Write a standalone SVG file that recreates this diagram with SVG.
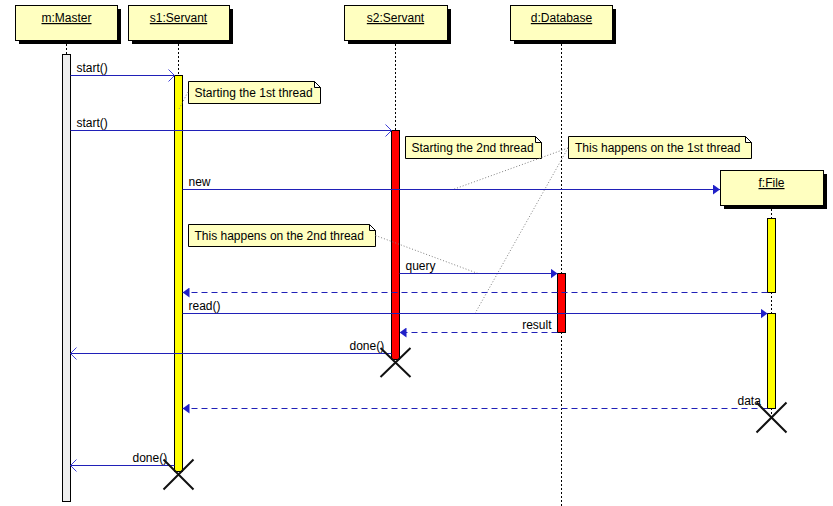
<svg xmlns="http://www.w3.org/2000/svg" width="833" height="506" viewBox="0 0 833 506">
<style>
  text { font-family: "Liberation Sans", Arial, sans-serif; font-size: 12px; fill: #000; }
  .head { fill: #ffffc0; stroke: #000; stroke-width: 1; }
  .shadow { fill: #000; }
  .htxt { text-anchor: middle; text-decoration: underline; }
  .life { stroke: #000; stroke-width: 1; stroke-dasharray: 2,2; fill: none; }
  .act { stroke: #000; stroke-width: 1; }
  .note { fill: #ffffc0; stroke: #000; stroke-width: 1; }
  .fold { fill: #fff; stroke: #000; stroke-width: 1; }
  .ncon { stroke: #808080; stroke-width: 1; stroke-dasharray: 1,2; fill: none; }
  .msg { stroke: #2020b8; stroke-width: 1; fill: none; }
  .ret { stroke: #2020b8; stroke-width: 1; fill: none; stroke-dasharray: 6,4; }
  .x { stroke: #111; stroke-width: 2; }
</style>
<defs>
  <marker id="filled" viewBox="0 0 7 10" refX="7" refY="5" markerWidth="7" markerHeight="10" markerUnits="userSpaceOnUse" orient="auto">
    <path d="M0,0 L7,5 L0,10 z" fill="#2020c8"/>
  </marker>
  <marker id="open" viewBox="0 0 8 14" refX="7" refY="7" markerWidth="8" markerHeight="14" markerUnits="userSpaceOnUse" orient="auto">
    <path d="M1,1 L7,7 L1,13" fill="none" stroke="#4040d8" stroke-width="1"/>
  </marker>
</defs>
<rect width="833" height="506" fill="#fff"/>

<!-- lifelines -->
<g id="lifelines">
  <line class="life" x1="66.5" y1="40" x2="66.5" y2="54"/>
  <line class="life" x1="178.5" y1="40" x2="178.5" y2="75"/>
  <line class="life" x1="395.5" y1="40" x2="395.5" y2="130"/>
  <line class="life" x1="561.5" y1="40" x2="561.5" y2="506"/>
  <line class="life" x1="771.5" y1="209" x2="771.5" y2="218"/>
  <line class="life" x1="771.5" y1="292" x2="771.5" y2="313"/>
  <line class="life" x1="771.5" y1="408" x2="771.5" y2="416"/>
</g>

<g id="m-master">
  <rect class="shadow" x="19" y="9" width="102" height="35"/>
  <rect class="head" x="15.5" y="5.5" width="102" height="35"/>
  <text class="htxt" x="66.5" y="22">m:Master</text>
  <rect class="act" fill="#eeeeee" x="62.5" y="54.5" width="8" height="447"/>
</g>
<g id="s1-servant">
  <rect class="shadow" x="132" y="9" width="101" height="35"/>
  <rect class="head" x="128.5" y="5.5" width="101" height="35"/>
  <text class="htxt" x="178.5" y="22">s1:Servant</text>
  <rect class="act" fill="#ffff00" x="174.5" y="75.5" width="8" height="396"/>
</g>
<g id="s2-servant">
  <rect class="shadow" x="348" y="9" width="103" height="35"/>
  <rect class="head" x="344.5" y="5.5" width="103" height="35"/>
  <text class="htxt" x="395.5" y="22">s2:Servant</text>
  <rect class="act" fill="#ff0000" x="391.5" y="130.5" width="8" height="229"/>
</g>
<g id="d-database">
  <rect class="shadow" x="514" y="9" width="102" height="35"/>
  <rect class="head" x="510.5" y="5.5" width="102" height="35"/>
  <text class="htxt" x="561.5" y="22">d:Database</text>
  <rect class="act" fill="#ff0000" x="557.5" y="273.5" width="8" height="59"/>
</g>
<g id="f-file">
  <rect class="shadow" x="724" y="174" width="103" height="35"/>
  <rect class="head" x="720.5" y="170.5" width="103" height="35"/>
  <text class="htxt" x="771.5" y="187">f:File</text>
  <rect class="act" fill="#ffff00" x="767.5" y="218.5" width="8" height="74"/>
  <rect class="act" fill="#ffff00" x="767.5" y="313.5" width="8" height="95"/>
</g>

<!-- notes -->
<g id="note1">
  <path class="note" d="M188.5,81.5 H314.5 L320.5,87.5 V103.5 H188.5 Z"/>
  <path class="fold" d="M314.5,81.5 V87.5 H320.5 Z"/>
  <text x="194.5" y="96.5">Starting the 1st thread</text>
</g>
<g id="note2">
  <path class="note" d="M405.5,136.5 H535.5 L541.5,142.5 V158.5 H405.5 Z"/>
  <path class="fold" d="M535.5,136.5 V142.5 H541.5 Z"/>
  <text x="411.5" y="151.5">Starting the 2nd thread</text>
</g>
<g id="note3">
  <path class="note" d="M568.5,136.5 H745.5 L751.5,142.5 V158.5 H568.5 Z"/>
  <path class="fold" d="M745.5,136.5 V142.5 H751.5 Z"/>
  <text x="575" y="151.5">This happens on the 1st thread</text>
</g>
<g id="note4">
  <path class="note" d="M188.5,224.5 H369.5 L375.5,230.5 V246.5 H188.5 Z"/>
  <path class="fold" d="M369.5,224.5 V230.5 H375.5 Z"/>
  <text x="194.5" y="239.5">This happens on the 2nd thread</text>
</g>

<g id="connectors">
  <!-- note connectors -->
  <line class="ncon" x1="188" y1="92" x2="178.5" y2="110"/>
  <line class="ncon" x1="568" y1="148" x2="453" y2="189.5"/>
  <line class="ncon" x1="568" y1="148" x2="475" y2="313.5"/>
  <line class="ncon" x1="375.5" y1="235.5" x2="478" y2="273.5"/>

  <!-- messages -->
  <line class="msg" x1="70.5" y1="75.5" x2="174.5" y2="75.5" marker-end="url(#open)"/>
  <text x="76.5" y="71.5">start()</text>

  <line class="msg" x1="70.5" y1="130.5" x2="391.5" y2="130.5" marker-end="url(#open)"/>
  <text x="76.5" y="126.5">start()</text>

  <line class="msg" x1="182.5" y1="189.5" x2="720" y2="189.5" marker-end="url(#filled)"/>
  <text x="188.5" y="185.5">new</text>

  <line class="msg" x1="399.5" y1="273.5" x2="557.5" y2="273.5" marker-end="url(#filled)"/>
  <text x="405.5" y="269.5">query</text>

  <line class="ret" x1="767.5" y1="292.5" x2="182.5" y2="292.5" marker-end="url(#filled)"/>

  <line class="msg" x1="182.5" y1="313.5" x2="767.5" y2="313.5" marker-end="url(#filled)"/>
  <text x="188.5" y="309.5">read()</text>

  <line class="ret" x1="557.5" y1="332.5" x2="399.5" y2="332.5" marker-end="url(#filled)"/>
  <text x="551.5" y="328.5" text-anchor="end">result</text>

  <line class="msg" x1="391.5" y1="353.5" x2="70.5" y2="353.5" marker-end="url(#open)"/>
  <text x="349.5" y="350">done()</text>

  <line class="ret" x1="767.5" y1="408.5" x2="182.5" y2="408.5" marker-end="url(#filled)"/>
  <text x="737.5" y="404.5">data</text>

  <line class="msg" x1="174.5" y1="465.5" x2="70.5" y2="465.5" marker-end="url(#open)"/>
  <text x="132.5" y="461.5">done()</text>
</g>

<!-- destruction marks -->
<g id="destroy">
  <path class="x" d="M380.5,348 L410.5,377 M410.5,348 L380.5,377"/>
  <path class="x" d="M163.5,459.5 L193.5,489.5 M193.5,459.5 L163.5,489.5"/>
  <path class="x" d="M756.5,402.5 L786.5,432.5 M786.5,402.5 L756.5,432.5"/>
</g>
</svg>
